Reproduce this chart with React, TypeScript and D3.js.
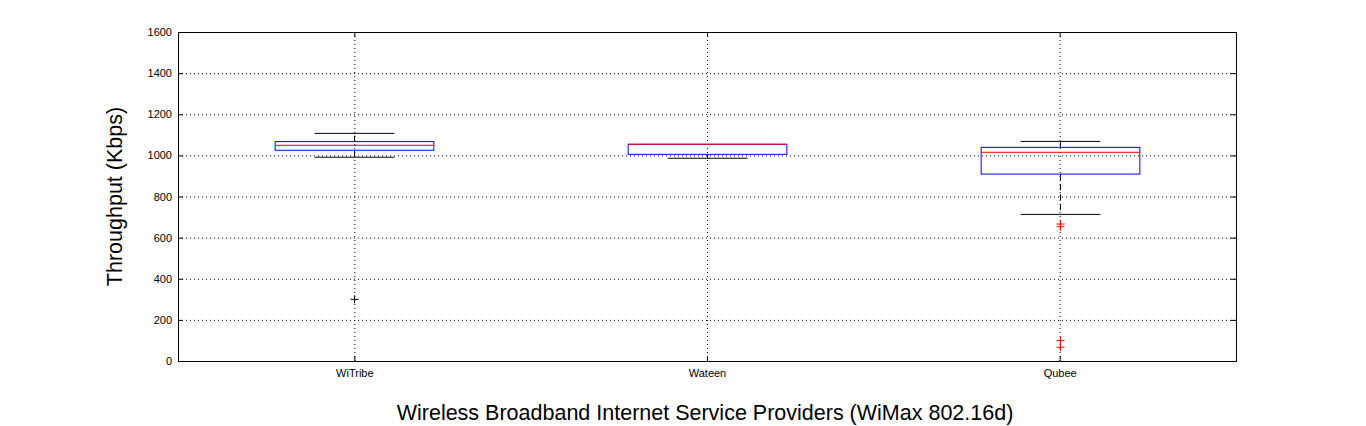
import React, { useEffect, useRef } from 'react';
import * as d3 from 'd3';

const categories = ['WiTribe', 'Wateen', 'Qubee'];
const lowerWhisker = [991, 986, 713];
const q1 = [1025, 1005, 909];
const median = [1049, 1054, 1015];
const q3 = [1067, 1054, 1039];
const upperWhisker = [1107, 1054, 1068];
const outliers = [[300], [], [666, 653, 99, 67]];
const outlierColors = ['#000', 'red', 'red'];
const yTicks = [0, 200, 400, 600, 800, 1000, 1200, 1400, 1600];

const App: React.FC = () => {
  const ref = useRef<SVGSVGElement>(null);

  useEffect(() => {
    const svg = d3.select(ref.current);
    svg.selectAll('*').remove();
    const left = 178, right = 1236, top = 32, bottom = 361;
    const x = d3.scaleLinear().domain([0.5, 3.5]).range([left, right]);
    const y = d3.scaleLinear().domain([0, 1600]).range([bottom, top]);
    const font = 'Arial, Liberation Sans, sans-serif';

    svg.append('rect').attr('width', 1366).attr('height', 426).attr('fill', '#fff');

    // grid
    const grid = svg.append('g').attr('stroke', '#000').attr('stroke-width', 1).attr('stroke-dasharray', '1,3');
    yTicks.slice(1, -1).forEach(t => {
      grid.append('line').attr('x1', left).attr('x2', right).attr('y1', y(t) + 0.5).attr('y2', y(t) + 0.5);
    });
    categories.forEach((_, i) => {
      grid.append('line').attr('x1', x(i + 1) + 0.5).attr('x2', x(i + 1) + 0.5).attr('y1', top).attr('y2', bottom);
    });

    // boxes
    const bw = x(1.225) - x(1), cw = x(1.113) - x(1);
    categories.forEach((_, i) => {
      const cx = Math.round(x(i + 1)) + 0.5;
      const g = svg.append('g').attr('fill', 'none');
      g.append('line').attr('x1', cx).attr('x2', cx).attr('y1', y(q3[i])).attr('y2', y(upperWhisker[i]))
        .attr('stroke', '#000').attr('stroke-dasharray', '6,4');
      g.append('line').attr('x1', cx).attr('x2', cx).attr('y1', y(q1[i])).attr('y2', y(lowerWhisker[i]))
        .attr('stroke', '#000').attr('stroke-dasharray', '6,4');
      [upperWhisker[i], lowerWhisker[i]].forEach(v => {
        if (v === q3[i]) return;
        g.append('line').attr('x1', cx - cw).attr('x2', cx + cw).attr('y1', y(v)).attr('y2', y(v)).attr('stroke', '#000');
      });
      g.append('rect').attr('x', cx - bw).attr('y', y(q3[i])).attr('width', 2 * bw)
        .attr('height', y(q1[i]) - y(q3[i])).attr('stroke', 'blue');
      g.append('line').attr('x1', cx - bw).attr('x2', cx + bw).attr('y1', y(median[i])).attr('y2', y(median[i])).attr('stroke', 'red');
      outliers[i].forEach(v => {
        g.append('path').attr('d', `M${cx - 4},${y(v)}H${cx + 4}M${cx},${y(v) - 4}V${y(v) + 4}`)
          .attr('stroke', outlierColors[i]);
      });
    });

    // axes frame
    svg.append('rect').attr('x', left + 0.5).attr('y', top + 0.5).attr('width', right - left).attr('height', bottom - top)
      .attr('fill', 'none').attr('stroke', '#000');
    const ax = svg.append('g').attr('font-family', font).attr('font-size', 11).attr('fill', '#000');
    yTicks.forEach(t => {
      ax.append('line').attr('x1', left).attr('x2', left + 5).attr('y1', y(t) + 0.5).attr('y2', y(t) + 0.5).attr('stroke', '#000');
      ax.append('line').attr('x1', right - 5).attr('x2', right).attr('y1', y(t) + 0.5).attr('y2', y(t) + 0.5).attr('stroke', '#000');
      ax.append('text').attr('x', left - 6).attr('y', y(t) + 4).attr('text-anchor', 'end').text(t);
    });
    categories.forEach((c, i) => {
      const cx = x(i + 1) + 0.5;
      ax.append('line').attr('x1', cx).attr('x2', cx).attr('y1', bottom).attr('y2', bottom - 5).attr('stroke', '#000');
      ax.append('line').attr('x1', cx).attr('x2', cx).attr('y1', top).attr('y2', top + 5).attr('stroke', '#000');
      ax.append('text').attr('x', cx).attr('y', bottom + 16).attr('text-anchor', 'middle').text(c);
    });
    svg.append('text').attr('x', (left + right) / 2 - 2).attr('y', 420).attr('text-anchor', 'middle').attr('fill', '#000')
      .attr('font-family', font).attr('font-size', 21.5).text('Wireless Broadband Internet Service Providers (WiMax 802.16d)');
    svg.append('text').attr('transform', `translate(122,${(top + bottom) / 2}) rotate(-90)`).attr('text-anchor', 'middle')
      .attr('fill', '#000').attr('font-family', font).attr('font-size', 21.5).text('Throughput (Kbps)');
  }, []);

  return <svg ref={ref} width={1366} height={426} style={{ position: 'absolute', left: 0, top: 0 }} />;
};

export default App;
